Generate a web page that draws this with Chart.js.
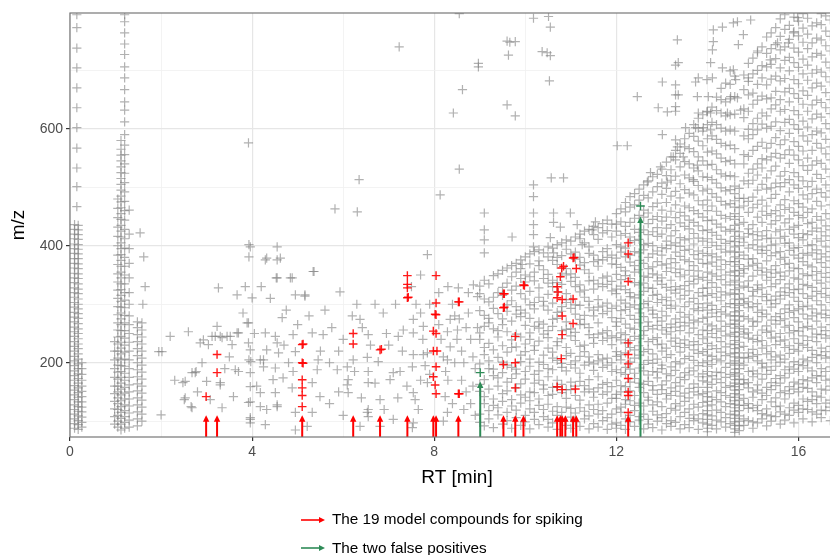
<!DOCTYPE html>
<html><head><meta charset="utf-8">
<script src="https://cdn.jsdelivr.net/npm/chart.js@4"></script>
<style>html,body{margin:0;padding:0;background:#fff;overflow:hidden}#wrap{width:830px;height:555px;overflow:hidden;position:relative}canvas{display:block}</style>
</head><body><div id="wrap"><canvas id="c" width="880" height="555"></canvas></div>
<script>
// ---- axis / tick definitions ----
const xGridValues = [0,2,4,6,8,10,12,14,16];
const xTickLabels = [0,4,8,12,16];
const yGridValues = [100,200,300,400,500,600,700];
const yTickLabels = [200,400,600];

// ---- model compounds (red) ----
const redRT = [2.99,3.23,3.23, 5.10,5.12,5.10,5.12,5.10,5.10,5.10,5.10, 6.22,6.22, 6.81,6.84,
  7.41,7.41,7.41,7.41,7.43, 8.04,8.04,8.04,8.02,7.98,8.04,7.98,8.06,8.04,7.98,8.02,8.04,
  8.53,8.55,8.53,8.55, 9.52,9.54,9.52,9.54,9.52, 9.78,9.78,9.78, 9.96,9.98,
  11.05,11.07,11.12,10.80,10.84,10.77,10.70,10.72,10.70,10.81,11.05,10.81,11.05,10.81,10.79,10.70,10.81,11.10,
  12.26,12.26,12.26,12.26,12.26,12.26,12.26,12.26,12.26,12.26];
const redMZ = [142,214,183, 231,232,200,199,171,157,144,125, 250,232, 222,223,
  349,334,328,311,312, 349,302,282,283,254,250,220,220,193,176,162,147,
  304,304,147,147, 318,318,294,295,197, 245,200,157, 333,332,
  379,380,361,362,365,347,330,321,311,308,309,280,267,248,207,159,154,155,
  405,386,339,234,214,198,173,150,144,115];

// ---- the two false positives (green) ----
const greenRT = [9.01,12.53];
const greenMZ = [183,468];

// ---- arrows ----
const redArrowRT = [2.99,3.23,5.10,6.22,6.81,7.41,7.98,8.04,8.53,9.52,9.78,9.96,10.70,10.77,10.81,10.88,11.05,11.12,12.26];
const redArrowTipMZ = 110;
const greenArrowRT = [9.01,12.53];
const greenArrowTipMZ = [168,450];

// ---- all detected features (grey): RT column -> m/z values ----
const greyEarlyCols = [
 [0.10,[88,96,104,112,120,128,137,145,153,161,170,178,186,195,203,211,220,228,236,245,253,261,270,278,286,295,303,312,320,328,337,345,353,362,370,378,387,395,403,412,420,428,436]],
 [0.18,[86,94,101,109,117,125,133,141,149,157,165,173,181,190,198,206,215,224,232,241,250,258,267,276,284,292,300,309,318,326,335,344,352,361,369,378,386,394,402,411,419,427,435]],
 [0.26,[90,98,107,116,124,133,142,151,160,170,180,190,200]],
 [0.15,[467,501,533,567,602,636,670,704,738,773,795]],
 [0.98,[95,108,121,134,147,160,175,190,205,220,236]],
 [1.05,[90,100,110,120,130,140,150,160,172,184,196,208,220,232,244,256,268,282,296,310,324,338,352,368,384,400,416,432,448,464,480]],
 [1.12,[85,95,105,115,125,135,145,155,165,175,185,195,205,215,225,235,245,255,265,275,285,295,305,315,325,335,345,355,365,375,385,395,405,415,425,435,445,455,465,475,485,495,505,515,525,535,545,555,565,580]],
 [1.20,[88,98,108,118,128,138,148,158,170,182,194,206,218,230,242,255,268,281,294,307,320,335,350,365,380,396,412,428,444,460,476,492,508,524,540,556,572,590,612,632,646,667,687,706,727,745,764,783,795]],
 [1.30,[90,102,114,126,138,150,162,175,190,205,220,235,250,265,280,300,320,345,370,395,420,461]],
 [1.48,[92,104,116,128,140,152,164,176,188,200,212,224,236,248,260,270]],
 [1.58,[100,112,124,136,148,160,172,184,196,208,220,232,244,256,268]]
];
const greyMidPts = [
 [1.54,422],[1.62,381],[1.65,330],[1.6,300],[1.95,219],[2.0,111],[2.02,219],[2.3,170],[2.2,245],
 [2.53,168],[2.53,140],[2.68,123],[2.6,253],[2.86,234],[2.75,183],[3.0,168],[2.93,239],[3.12,245],[3.23,262],[3.3,245],
 [3.45,245],[3.67,251],[3.56,231],[3.26,328],[3.67,316],[3.8,285],[3.92,268],[3.3,162],[3.34,123],[3.63,188],[3.93,402],
 [3.93,381],[3.96,222],[3.93,205],[3.96,183],[3.96,133],[3.96,106],[3.96,97],[4.0,311],[4.29,376],[4.55,398],[4.55,376],
 [4.55,345],[4.84,345],[4.95,316],[5.16,314],[5.36,356],[5.93,321],[4.29,251],[4.32,222],[4.25,193],[4.18,149],[4.32,120],
 [4.51,245],[4.58,217],[4.51,191],[4.68,174],[4.51,149],[4.55,125],[4.66,277],[4.9,248],[4.95,219],[4.9,185],[4.88,157],
 [4.95,115],[4.95,85],[5.32,251],[5.56,248],[5.43,188],[5.32,166],[5.49,142],[5.32,115],[5.21,91],[5.87,188],[6.09,193],
 [6.11,171],[6.11,149],[6.09,162],[6.22,205],[6.37,274],[6.42,260],[6.55,248],[6.53,209],[6.55,185],[6.55,166],[6.77,202],
 [6.81,137],[6.55,120],[6.53,115],[6.88,285],[7.03,171],[7.1,183],[7.25,185],[7.21,245],[7.32,256],[7.54,274],[7.54,251],
 [7.54,214],[7.52,193],[7.54,149],[7.58,137],[7.54,97],[7.76,262],[7.76,214],[7.85,217],[7.85,166],[8.29,205],[8.24,142],
 [8.29,115],[8.35,227],[8.29,253],[8.51,256],[8.35,274],[3.96,159],[3.7,185],[4.18,205],[6.37,91],[6.55,108],[6.81,91],
 [7.1,103],[7.52,89],[2.48,166],[2.51,137],[2.66,125],[2.77,185],[3.04,231],[3.19,245],[3.34,243],[3.52,245],[3.7,251],
 [3.89,268],[3.92,234],[3.96,398],[3.97,202],[3.92,132],[3.96,103],[3.59,142],[3.3,166],[3.08,137],[2.68,183],[4.25,205],
 [4.29,94],[4.18,125],[4.32,379],[4.53,345],[4.55,234],[4.46,171],[4.55,128],[5.34,356],[4.88,345],[5.16,316],[4.62,379],
 [8.53,328],[8.86,333],[8.95,313],
 [7.6,300],[7.7,285],[7.75,240],[7.8,195],[7.9,180],[8.1,265],[8.15,240],[8.2,210],[8.25,185],[8.3,170],[8.4,300],[8.45,280],
 [8.5,240],[8.6,220],[8.65,200],[8.7,260],[8.75,285],[8.8,240],[8.85,210],[8.9,190],[8.95,260],[8.6,170],[8.7,150],[8.8,130],
 [8.9,110],[8.4,130],[8.2,100],[8.45,200],[8.55,275],[8.75,320],[8.85,160],[8.65,120],[8.3,330],[8.1,320],[7.7,170],[7.65,120],
 [7.2,140],[7.0,230],[6.95,250],[6.7,300],[6.6,230],[6.3,300],[6.2,280],[6.0,240],[5.9,220],[5.7,200],[5.75,260],[5.6,290],
 [5.5,220],[5.45,205],[5.25,280],[5.0,265],[4.75,290],[4.7,230],[4.8,200],[4.4,310],[4.2,330],[4.05,250],[4.1,160],[3.85,330],
 [3.5,210],[3.4,190],[2.9,200],[2.8,150],[6.9,120],[6.4,140],[6.0,110],[5.7,130],[5.9,150],[6.25,185],[6.7,165],[7.3,220],
 [7.4,160],[7.15,300],[7.5,330],[7.7,350],[7.9,300]
];
const greyHighPts = [
 [3.92,576],[5.82,463],[6.31,458],[6.35,513],[7.85,385],[8.13,487],[7.23,740],[8.62,667],[8.42,627],[8.97,706],[8.97,712],
 [9.6,750],[9.66,748],[9.78,749],[9.63,726],[9.6,641],[9.78,622],[8.55,797],[8.55,531],[9.1,456],[9.1,427],[9.1,410],
 [9.1,388],[9.71,415],[10.18,504],[10.18,484],[10.18,456],[10.18,436],[10.18,419],[10.18,398],[10.51,792],[10.55,774],
 [10.48,730],[10.55,725],[10.53,682],[10.37,732],[10.18,789],[10.57,516],[10.62,456],[10.62,440],[10.55,414],[10.62,388],
 [9.93,368],[10.84,516],[12.46,655],[12.02,571],[12.24,571],[10.99,456],[10.77,432],[11.14,436],[11.54,441],[11.47,427],
 [11.25,402],[13.34,752],[13.3,709],[13.36,713],[13.01,680],[13.3,675],[13.3,658],[13.36,658],[12.92,636],[13.12,629],
 [13.3,638],[13.3,630],[13.01,590],[13.3,581],[13.52,602],[13.74,680],[13.8,687],[13.99,684],[14.11,687],[14.02,655],
 [13.78,655],[13.8,627],[13.99,629],[14.07,627],[13.74,602],[13.91,602],[14.07,598],[14.13,769],[14.13,749],[14.11,735],
 [14.07,713],[14.33,774],[14.57,781],[14.66,783],[14.79,761],[14.68,744],[14.95,786],[14.33,704],[14.57,701],[14.62,684],
 [14.9,687],[14.51,655],[14.66,653],[14.73,632],[14.44,627],[15.1,730],[15.38,718],[15.54,747],[15.78,747],[15.89,764],
 [15.98,790],[12.68,509],[12.75,525],[12.97,535],[13.25,552],[13.34,569],[13.12,509],[13.47,552],[13.69,513],[13.78,538]
];
const greyLateCols = [
 [9.0,[98,112,151,163,198,240,251,289,318,331]],
 [9.1,[92,130,142,171,214,226,262,281,309,341]],
 [9.2,[104,118,155,190,203,233,268,276,304,335]],
 [9.3,[89,127,138,178,189,222,258,293,312,349]],
 [9.4,[111,123,160,174,209,244,255,284,320,352]],
 [9.5,[95,134,147,183,201,229,265,275,315,329,358]],
 [9.6,[101,115,152,167,196,218,253,288,299,336,362]],
 [9.7,[88,126,137,173,192,226,239,271,306,324,347,366]],
 [9.8,[106,119,157,181,189,227,249,283,296,331,355,370]],
 [9.9,[93,131,145,164,202,213,244,279,290,318,344,361,376]],
 [10.0,[99,110,141,172,185,219,232,264,285,309,338,350,381]],
 [10.1,[87,121,135,150,194,206,240,251,276,299,322,347,369,386]],
 [10.2,[103,115,149,165,180,221,229,262,292,303,340,355,390]],
 [10.3,[94,127,138,170,186,201,237,259,270,312,328,366,374,393]],
 [10.4,[108,120,155,162,197,213,249,266,297,305,344,359,388]],
 [10.5,[90,103,129,144,176,190,225,243,255,290,317,336,351,381,398]],
 [10.6,[97,117,146,158,188,208,218,262,274,302,330,341,375,396]],
 [10.7,[86,110,125,158,170,204,229,236,276,286,321,337,368,380,402]],
 [10.8,[101,115,149,163,192,199,241,255,288,296,334,353,383,405]],
 [10.9,[93,124,139,154,186,212,226,257,270,303,318,350,361,394,410]],
 [11.0,[88,107,122,154,167,197,216,246,258,293,308,339,352,386,408]],
 [11.1,[99,114,144,160,191,203,238,252,283,299,330,346,377,389,415]],
 [11.2,[91,123,136,168,182,211,228,265,274,298,321,333,367,380,412,420]],
 [11.3,[104,117,150,161,196,219,230,266,281,312,324,359,371,405,425]],
 [11.4,[87,109,128,155,171,201,210,248,260,294,305,340,353,387,398,428]],
 [11.5,[96,120,141,150,187,198,233,243,280,290,326,341,373,384,419,433]],
 [11.6,[90,112,129,157,176,203,214,249,268,295,308,335,365,376,411,431]],
 [11.7,[101,118,146,163,192,206,238,251,284,297,330,345,376,390,422,438]],
 [11.8,[86,106,131,150,166,196,208,242,255,288,302,334,348,380,395,426,444]],
 [11.9,[95,112,139,159,185,200,231,246,277,293,323,339,369,384,415,437]],
 [12.0,[88,97,121,139,146,170,188,211,219,243,262,270,297,318,326,351,368,379,402,425,437,455]],
 [12.1,[93,115,124,150,161,183,205,214,239,251,276,289,307,331,342,363,389,398,418,441,463]],
 [12.2,[86,104,129,137,159,180,192,217,234,248,266,291,302,325,349,357,381,396,421,433,458,474]],
 [12.3,[99,110,135,152,167,189,201,226,238,259,281,295,313,320,344,372,384,406,415,440,466,484]],
 [12.4,[91,118,127,144,173,182,208,222,245,257,274,299,311,337,355,366,390,409,428,447,470,489]],
 [12.5,[102,108,131,158,165,191,213,229,241,268,285,292,316,333,359,375,388,411,423,452,478,497]],
 [12.6,[87,112,126,149,163,186,197,219,247,255,279,301,322,336,348,370,393,402,427,449,461,486,504]],
 [12.7,[95,103,136,141,168,179,204,223,236,262,270,294,305,328,346,361,380,404,419,438,456,482,511]],
 [12.8,[89,117,128,153,161,185,199,215,240,258,283,290,315,327,352,364,386,400,424,445,467,492,518]],
 [12.9,[100,111,133,146,174,184,206,231,243,264,277,303,317,340,350,373,391,416,431,450,473,501,522]],
 [13.0,[85,106,125,154,162,190,196,220,232,256,271,288,308,334,345,367,384,397,420,442,461,488,507,531]],
 [13.1,[96,113,138,147,169,181,209,225,249,260,280,298,312,329,356,369,395,408,430,449,474,498,520,543]],
 [13.2,[91,101,122,144,157,178,193,214,237,253,266,293,306,324,341,362,378,401,417,436,459,485,512,530,552]],
 [13.3,[98,119,130,151,166,187,202,228,242,261,275,297,319,330,354,371,389,405,426,448,470,493,519,547,563]],
 [13.4,[87,108,126,143,160,175,198,218,233,255,269,286,309,326,347,360,382,399,414,439,457,482,506,535,558,574]],
 [13.5,[94,115,134,148,171,183,207,226,239,263,278,296,315,332,350,376,392,410,433,451,468,496,521,544,569,583]],
 [13.6,[89,105,121,140,156,179,191,211,230,251,268,282,304,323,339,358,373,394,412,429,444,465,490,516,540,566,592]],
 [13.7,[101,111,129,150,164,186,204,222,236,259,273,292,310,335,348,366,385,403,421,440,460,487,510,533,561,587,607]],
 [13.8,[86,104,124,145,158,176,195,216,231,248,270,289,301,320,343,357,377,391,413,434,455,477,503,528,552,579,601,618]],
 [13.9,[97,113,132,147,169,181,200,219,241,256,276,294,314,327,346,370,387,408,426,449,470,494,518,545,571,596,624]],
 [14.0,[82,88,95,103,111,118,126,134,142,150,158,167,176,185,194,203,213,223,233,244,255,266,278,290,302,315,328,341,355,369,383,397,412,427,443,460,478,497,517,538,560,583,607,630]],
 [14.1,[93,109,128,141,163,178,197,211,229,250,263,285,298,318,337,352,372,386,406,423,444,468,489,513,539,562,588,611,637]],
 [14.2,[87,102,119,137,152,172,184,206,224,243,258,279,291,312,329,348,365,381,400,418,437,459,483,507,530,557,582,607,631,654]],
 [14.3,[99,115,133,149,166,183,203,218,236,254,271,287,306,321,342,359,376,394,411,432,452,476,499,523,550,575,601,627,650,669]],
 [14.4,[90,106,125,144,158,175,192,212,227,246,262,283,296,316,333,350,368,389,404,425,447,470,494,519,544,571,596,622,646,678]],
 [14.5,[96,112,130,141,161,180,199,215,232,249,266,280,301,319,338,355,373,391,408,428,450,472,496,520,546,572,598,624,651,676,699]],
 [14.6,[81,87,93,99,105,111,117,123,129,135,141,147,153,159,165,171,177,183,189,196,203,210,217,224,231,238,245,252,259,266,273,280,287,294,301,309,317,325,333,341,349,357,365,373,381,389,398,407,416,425,435,445,455,466,477,489,502,518,540,566,596,625,655,690]],
 [14.7,[84,92,100,109,118,127,136,145,154,163,172,181,190,199,208,217,226,235,244,253,262,271,280,289,298,308,318,328,338,348,358,368,378,389,400,412,424,437,450,465,481,498]],
 [14.8,[93,104,127,139,164,171,196,209,228,249,258,279,301,310,331,353,361,384,406,415,440,468,481,511,540,556,588,619,634,667,692]],
 [14.9,[101,122,130,157,166,185,208,217,242,251,275,294,304,329,340,365,377,396,421,429,457,476,506,524,553,583,599,630,658,681,712]],
 [15.0,[88,99,123,141,150,176,186,211,223,240,262,271,296,314,322,348,367,378,402,419,436,465,483,512,531,563,590,609,642,661,694,721]],
 [15.1,[97,118,127,153,162,181,203,214,236,247,270,286,301,325,333,358,370,393,410,424,449,471,495,521,540,570,598,618,649,676,700,733]],
 [15.2,[104,113,137,148,172,191,199,225,238,256,279,290,313,328,350,362,387,398,417,440,459,478,505,533,549,577,608,627,656,687,708,740]],
 [15.3,[92,111,121,144,158,180,193,215,229,252,263,283,306,317,341,355,374,392,412,426,452,468,497,516,547,567,601,622,651,675,706,729,757]],
 [15.4,[100,109,133,154,166,187,205,219,242,254,273,295,307,330,346,359,383,401,413,437,455,481,499,528,552,575,604,634,653,685,710,737,764]],
 [15.5,[108,125,140,161,173,194,210,231,244,266,279,301,314,335,353,366,388,403,424,443,460,488,507,536,558,585,612,641,664,690,720,744,773]],
 [15.6,[95,116,126,149,165,178,201,213,237,250,272,284,309,321,342,355,377,390,413,427,451,470,501,519,550,573,597,630,650,682,704,735,758,788]],
 [15.7,[102,112,138,152,174,188,206,226,239,261,275,292,315,328,348,368,380,404,416,439,462,479,508,527,556,581,611,633,663,686,717,740,770,795]],
 [15.8,[110,123,147,159,182,193,216,229,251,264,286,299,320,335,357,370,392,405,428,446,465,492,513,541,564,592,616,646,669,699,722,753,777]],
 [15.9,[97,119,131,155,167,189,202,223,241,255,277,289,312,325,345,362,384,396,420,432,457,477,504,525,555,578,607,631,660,684,713,738,766,791]],
 [16.0,[115,127,150,164,185,197,220,233,254,270,292,305,326,343,361,379,397,414,435,452,472,498,518,547,570,599,624,652,677,705,731,759,784]],
 [16.1,[104,121,138,158,171,195,206,230,246,260,283,296,318,334,352,373,387,410,421,448,466,487,511,537,562,588,613,642,665,694,719,748,772,797]],
 [16.2,[120,134,156,169,191,203,226,238,262,275,297,310,332,349,367,384,400,419,438,457,480,501,529,550,579,603,630,657,683,709,737,762,789]],
 [16.3,[99,116,137,150,174,186,209,221,244,258,280,292,314,329,350,364,388,402,425,440,463,489,510,538,563,590,617,641,670,695,723,747,776]],
 [16.4,[112,130,143,166,178,200,214,236,249,271,285,306,322,341,356,377,393,412,430,450,476,497,522,545,575,596,625,649,678,701,729,755,781]],
 [16.5,[106,119,141,155,177,190,212,225,248,261,283,299,318,336,353,371,386,408,424,444,468,491,515,541,567,593,620,645,673,697,726,752,778,797]],
 [16.6,[118,131,153,170,185,208,219,242,255,277,290,312,327,346,363,381,398,417,434,455,483,504,531,557,582,609,636,662,689,714,742,767,793]],
 [16.7,[101,124,136,160,172,193,210,228,246,265,281,303,315,338,354,374,390,409,427,446,470,494,518,547,569,600,626,650,680,704,733,758,786]],
 [16.8,[109,122,148,157,181,196,216,234,253,268,291,301,324,340,360,376,395,413,433,453,478,500,527,551,577,606,631,660,685,712,738,765,790]],
 [16.9,[96,115,134,151,167,189,204,226,239,262,276,296,312,332,349,366,385,403,421,440,462,486,509,535,562,587,613,640,666,693,719,746,772,795]]
];

const legendLabels = ['The 19 model compounds for spiking','The two false positives'];
const xTitle = 'RT [min]';
const yTitle = 'm/z';

// ---- build point lists ----
const colsToPts = cols => { const o=[]; cols.forEach(([rt,list])=>list.forEach(m=>o.push({x:rt,y:m}))); return o; };
const pairsToPts = arr => arr.map(([a,b])=>({x:a,y:b}));
const greyPts = [].concat(colsToPts(greyEarlyCols), pairsToPts(greyMidPts), pairsToPts(greyHighPts), colsToPts(greyLateCols));
const redPts = redRT.map((r,i)=>({x:r,y:redMZ[i]}));
const greenPts = greenRT.map((r,i)=>({x:r,y:greenMZ[i]}));

const RED = '#ff0000', GREEN = '#2e8b57';
const FONT = '"Liberation Sans", Arial, Helvetica, sans-serif';

function drawArrowUp(ctx, px, yStart, yTip, color){
  ctx.strokeStyle = color; ctx.fillStyle = color; ctx.lineWidth = 2;
  ctx.beginPath(); ctx.moveTo(px, yStart); ctx.lineTo(px, yTip+4); ctx.stroke();
  ctx.beginPath(); ctx.moveTo(px, yTip); ctx.lineTo(px-3.2, yTip+6.5); ctx.lineTo(px+3.2, yTip+6.5); ctx.closePath(); ctx.fill();
}
function drawArrowRight(ctx, x0, x1, y, color){
  ctx.strokeStyle = color; ctx.fillStyle = color; ctx.lineWidth = 1.6;
  ctx.beginPath(); ctx.moveTo(x0, y); ctx.lineTo(x1-4, y); ctx.stroke();
  ctx.beginPath(); ctx.moveTo(x1, y); ctx.lineTo(x1-6, y-3); ctx.lineTo(x1-6, y+3); ctx.closePath(); ctx.fill();
}

const deco = {
  id:'deco',
  beforeDraw(chart){ const c=chart.ctx; c.save(); c.fillStyle='#fff'; c.fillRect(0,0,chart.width,chart.height); c.restore(); },
  afterDatasetsDraw(chart){
    const {ctx, chartArea:a, scales:{x,y}} = chart;
    ctx.save();
    ctx.beginPath(); ctx.rect(a.left,a.top,a.right-a.left,a.bottom-a.top); ctx.clip();
    const yb = y.getPixelForValue(y.min);
    redArrowRT.forEach(rt=>drawArrowUp(ctx, x.getPixelForValue(rt), yb, y.getPixelForValue(redArrowTipMZ), RED));
    greenArrowRT.forEach((rt,i)=>drawArrowUp(ctx, x.getPixelForValue(rt), yb, y.getPixelForValue(greenArrowTipMZ[i]), GREEN));
    ctx.restore();
    ctx.save(); ctx.strokeStyle='#777'; ctx.lineWidth=1.2;
    ctx.strokeRect(a.left, a.top, a.right-a.left, a.bottom-a.top); ctx.restore();
  },
  afterDraw(chart){
    const {ctx, chartArea:a} = chart;
    ctx.save();
    ctx.fillStyle='#000'; ctx.textAlign='center'; ctx.textBaseline='middle';
    ctx.font = '19px '+FONT;
    ctx.fillText(xTitle, (a.left+a.right)/2, 478);
    ctx.translate(19, (a.top+a.bottom)/2); ctx.rotate(-Math.PI/2); ctx.fillText(yTitle, 0, 0);
    ctx.restore();
    ctx.save();
    drawArrowRight(ctx, 301, 325, 520, RED);
    drawArrowRight(ctx, 301, 325, 548, GREEN);
    ctx.font = '15.3px '+FONT; ctx.textAlign='left'; ctx.textBaseline='middle'; ctx.fillStyle='#000';
    ctx.fillText(legendLabels[0], 332, 520);
    ctx.fillText(legendLabels[1], 332, 549);
    ctx.restore();
  }
};

const gridOpts = (majors) => ({
  color: c => majors.includes(c.tick && c.tick.value) ? '#e6e6e6' : '#f0f0f0',
  lineWidth: c => majors.includes(c.tick && c.tick.value) ? 1.2 : 0.8,
  tickColor: c => majors.includes(c.tick && c.tick.value) ? '#333' : 'rgba(0,0,0,0)',
  tickLength: 4, drawTicks: true
});

new Chart(document.getElementById('c'), {
  type:'scatter',
  data:{ datasets:[
    {label:'red', data:redPts, order:0, pointStyle:'cross', pointRadius:4.3, borderColor:'rgba(255,0,0,0.9)', borderWidth:1.4, backgroundColor:'rgba(0,0,0,0)'},
    {label:'green', data:greenPts, order:1, pointStyle:'cross', pointRadius:4.3, borderColor:GREEN, borderWidth:1.4, backgroundColor:'rgba(0,0,0,0)'},
    {label:'grey', data:greyPts, order:2, pointStyle:'cross', pointRadius:4.6, borderColor:'rgba(125,125,125,0.6)', borderWidth:1.2, backgroundColor:'rgba(0,0,0,0)'}
  ]},
  options:{
    responsive:false, animation:false, devicePixelRatio:1, events:[],
    layout:{padding:{left:0, top:13, right:36, bottom:0}},
    plugins:{legend:{display:false}, tooltip:{enabled:false}},
    scales:{
      x:{type:'linear', min:0, max:17,
        afterBuildTicks: s => { s.ticks = xGridValues.map(v=>({value:v})); },
        afterFit: s => { s.height = 118; },
        grid: gridOpts(xTickLabels), border:{display:false},
        ticks:{autoSkip:false, maxRotation:0, padding:3, color:'#4d4d4d', font:{size:14, family:FONT},
          callback: v => xTickLabels.includes(v) ? String(v) : ''}
      },
      y:{type:'linear', min:73, max:798,
        afterBuildTicks: s => { s.ticks = yGridValues.map(v=>({value:v})); },
        afterFit: s => { s.width = 70; },
        grid: gridOpts(yTickLabels), border:{display:false},
        ticks:{autoSkip:false, padding:3, color:'#4d4d4d', font:{size:14, family:FONT},
          callback: v => yTickLabels.includes(v) ? String(v) : ''}
      }
    }
  },
  plugins:[deco]
});
</script>
</body></html>
